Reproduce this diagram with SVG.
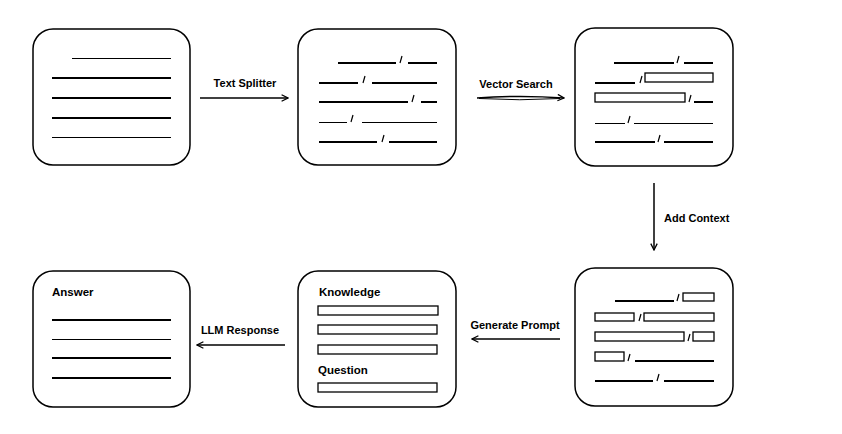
<svg xmlns="http://www.w3.org/2000/svg" width="842" height="434" viewBox="0 0 842 434">
<defs>
<style>
.box{fill:#fff;stroke:#000;stroke-width:1.5}
.thick{stroke:#000;stroke-width:2;fill:none}
.thin{stroke:#000;stroke-width:1;fill:none}
.bar{fill:#fff;stroke:#000;stroke-width:1.3}
.sl{stroke:#000;stroke-width:1.2;fill:none}
.conn{stroke:#000;stroke-width:1.5;fill:none}
.lbl{font-family:"Liberation Sans",Arial,sans-serif;font-size:11px;font-weight:bold;fill:#000}
.in{font-family:"Liberation Sans",Arial,sans-serif;font-size:11.5px;font-weight:bold;fill:#000}
</style>
<marker id="ah" viewBox="0 0 10 10" refX="9" refY="5" markerWidth="8" markerHeight="8" markerUnits="userSpaceOnUse" orient="auto">
<path d="M1,1 L9,5 L1,9" fill="none" stroke="#000" stroke-width="1.6"/>
</marker>
</defs>
<rect width="842" height="434" fill="#fff"/>

<g id="node-document">
<rect class="box" x="33" y="29" width="157" height="136" rx="20"/>
<line class="thin" x1="72" y1="58.5" x2="171" y2="58.5"/>
<line class="thick" x1="52" y1="78" x2="171" y2="78"/>
<line class="thick" x1="52" y1="98" x2="171" y2="98"/>
<line class="thick" x1="52" y1="118" x2="171" y2="118"/>
<line class="thin" x1="52" y1="137.5" x2="171" y2="137.5"/>
</g>

<g id="node-chunks">
<rect class="box" x="298" y="29" width="158" height="136" rx="20"/>
<line class="thick" x1="338" y1="63" x2="396" y2="63"/><line class="sl" x1="400" y1="63" x2="402" y2="56"/><line class="thick" x1="408" y1="63" x2="437" y2="63"/>
<line class="thick" x1="319" y1="83" x2="358" y2="83"/><line class="sl" x1="363" y1="83" x2="365" y2="76"/><line class="thick" x1="372" y1="83" x2="437" y2="83"/>
<line class="thick" x1="319" y1="102" x2="408" y2="102"/><line class="sl" x1="412" y1="102" x2="414" y2="95"/><line class="thick" x1="421" y1="102" x2="437" y2="102"/>
<line class="thin" x1="319" y1="122.5" x2="347" y2="122.5"/><line class="sl" x1="351" y1="122" x2="353" y2="115"/><line class="thin" x1="362" y1="122.5" x2="437" y2="122.5"/>
<line class="thick" x1="319" y1="142" x2="377" y2="142"/><line class="sl" x1="382" y1="142" x2="384" y2="135"/><line class="thick" x1="389" y1="142" x2="437" y2="142"/>
</g>

<g id="node-search">
<rect class="box" x="575" y="28" width="158" height="138" rx="20"/>
<line class="thick" x1="614" y1="63" x2="674" y2="63"/><line class="sl" x1="677" y1="63" x2="679" y2="56"/><line class="thick" x1="684" y1="63" x2="713" y2="63"/>
<line class="thick" x1="595" y1="83" x2="635" y2="83"/><line class="sl" x1="640" y1="83" x2="642" y2="76"/><rect class="bar" x="645" y="73" width="68" height="9"/>
<rect class="bar" x="595" y="93" width="90" height="9"/><line class="sl" x1="689" y1="102" x2="691" y2="95"/><line class="thick" x1="694" y1="102" x2="713" y2="102"/>
<line class="thin" x1="595" y1="123.5" x2="625" y2="123.5"/><line class="sl" x1="628" y1="123" x2="630" y2="116"/><line class="thin" x1="634" y1="123.5" x2="713" y2="123.5"/>
<line class="thick" x1="595" y1="142" x2="655" y2="142"/><line class="sl" x1="658" y1="142" x2="660" y2="135"/><line class="thick" x1="664" y1="142" x2="713" y2="142"/>
</g>

<g id="node-context">
<rect class="box" x="575" y="268" width="158" height="138" rx="20"/>
<line class="thick" x1="615" y1="301" x2="674" y2="301"/><line class="sl" x1="677" y1="301" x2="679" y2="294"/><rect class="bar" x="683" y="293" width="31" height="8"/>
<rect class="bar" x="595" y="313" width="39" height="8"/><line class="sl" x1="639" y1="321" x2="641" y2="314"/><rect class="bar" x="644" y="313" width="70" height="8"/>
<rect class="bar" x="595" y="332" width="89" height="9"/><line class="sl" x1="688" y1="341" x2="690" y2="334"/><rect class="bar" x="693" y="332" width="21" height="9"/>
<rect class="bar" x="595" y="352" width="29" height="9"/><line class="sl" x1="628" y1="361" x2="630" y2="354"/><line class="thick" x1="635" y1="361" x2="714" y2="361"/>
<line class="thick" x1="595" y1="381" x2="653" y2="381"/><line class="sl" x1="657" y1="381" x2="659" y2="374"/><line class="thick" x1="664" y1="381" x2="714" y2="381"/>
</g>

<g id="node-prompt">
<rect class="box" x="298" y="271" width="158" height="136" rx="20"/>
<text class="in" x="319" y="296">Knowledge</text>
<rect class="bar" x="318" y="306" width="120" height="9"/>
<rect class="bar" x="318" y="325" width="119" height="9"/>
<rect class="bar" x="318" y="345" width="119" height="9"/>
<text class="in" x="318" y="374">Question</text>
<rect class="bar" x="318" y="383" width="119" height="9"/>
</g>

<g id="node-answer">
<rect class="box" x="33" y="271" width="157" height="136" rx="20"/>
<text class="in" x="52" y="296">Answer</text>
<line class="thick" x1="52" y1="320" x2="171" y2="320"/>
<line class="thin" x1="52" y1="339.5" x2="171" y2="339.5"/>
<line class="thick" x1="52" y1="358" x2="171" y2="358"/>
<line class="thick" x1="52" y1="378" x2="171" y2="378"/>
</g>

<g id="connectors">
<line class="conn" x1="200" y1="98" x2="288" y2="98" marker-end="url(#ah)"/>
<text class="lbl" x="245" y="87" text-anchor="middle">Text Splitter</text>
<path class="conn" d="M477,98 Q520,95 564,98" marker-end="url(#ah)"/>
<path class="thin" d="M479,98.5 Q520,101 560,98.5"/>
<text class="lbl" x="516" y="88" text-anchor="middle">Vector Search</text>
<line class="conn" x1="654" y1="183" x2="654" y2="250" marker-end="url(#ah)"/>
<text class="lbl" x="664" y="222">Add Context</text>
<line class="conn" x1="560" y1="339" x2="472" y2="339" marker-end="url(#ah)"/>
<text class="lbl" x="515" y="329" text-anchor="middle">Generate Prompt</text>
<line class="conn" x1="285" y1="345" x2="197" y2="345" marker-end="url(#ah)"/>
<text class="lbl" x="240" y="334" text-anchor="middle">LLM Response</text>
</g>
</svg>
